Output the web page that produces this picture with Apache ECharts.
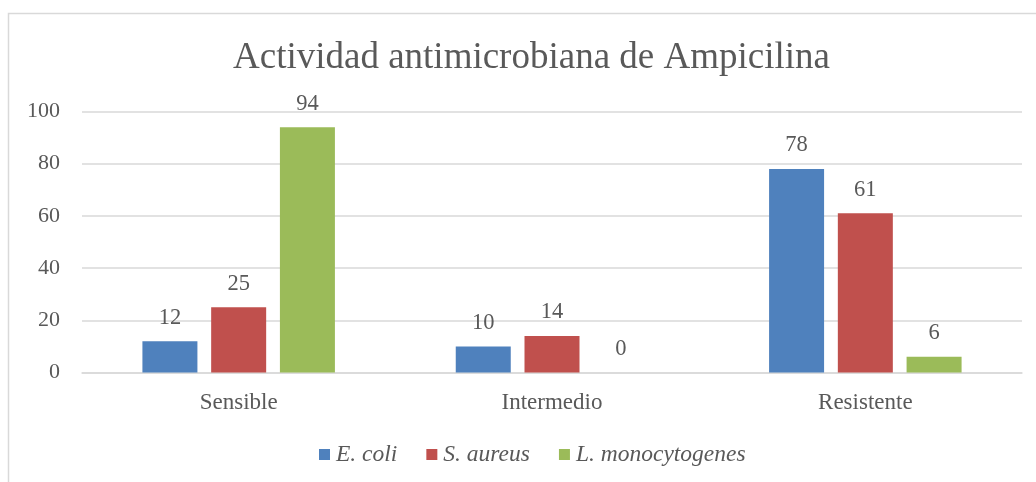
<!DOCTYPE html>
<html>
<head>
<meta charset="utf-8">
<script src="https://cdn.jsdelivr.net/npm/echarts@6/dist/echarts.min.js"></script>
<style>
html,body{margin:0;padding:0;background:#fff;}
#chart{width:1036px;height:482px;}
</style>
</head>
<body>
<div id="chart"></div>
<script>
const titleText = 'Actividad antimicrobiana de Ampicilina';
const categories = ['Sensible', 'Intermedio', 'Resistente'];
const seriesNames = ['E. coli', 'S. aureus', 'L. monocytogenes'];
const ecoli = [12, 10, 78];
const saureus = [25, 14, 61];
const lmono = [94, 0, 6];
const yTicks = { min: 0, max: 100, interval: 20 };

const colors = ['#4F81BD', '#C0504D', '#9BBB59'];
const font = 'Liberation Serif';
const textColor = '#595959';

const chart = echarts.init(document.getElementById('chart'), null, { renderer: 'canvas' });

function mkSeries(name, data, color) {
  return {
    name: name,
    type: 'bar',
    data: data,
    barWidth: 55,
    barGap: '25%',
    itemStyle: { color: color },
    label: {
      show: true,
      position: 'top',
      distance: 12,
      color: textColor,
      fontFamily: font,
      fontSize: 22.5
    }
  };
}

chart.setOption({
  animation: false,
  backgroundColor: '#fff',
  color: colors,
  graphic: [{
    type: 'rect',
    shape: { x: 8.5, y: 13.5, width: 1100, height: 600 },
    style: { fill: 'none', stroke: '#D9D9D9', lineWidth: 1.5 },
    silent: true
  }],
  title: {
    text: titleText,
    left: 228,
    top: 35,
    textStyle: { fontFamily: font, fontSize: 37, fontWeight: 'normal', color: textColor }
  },
  legend: {
    data: seriesNames,
    left: 314,
    top: 438,
    icon: 'rect',
    itemWidth: 11,
    itemHeight: 11,
    itemGap: 29,
    textStyle: { fontFamily: font, fontSize: 23.5, fontStyle: 'italic', color: textColor, padding: [0, 0, 0, 1] }
  },
  grid: { left: 82, right: 14, top: 111.5, bottom: 109.5, containLabel: false },
  xAxis: {
    type: 'category',
    data: categories,
    axisLine: { show: true, lineStyle: { color: '#D9D9D9', width: 1.5 } },
    axisTick: { show: false },
    axisLabel: { color: textColor, fontFamily: font, fontSize: 23, margin: 19 }
  },
  yAxis: {
    type: 'value',
    min: yTicks.min,
    max: yTicks.max,
    interval: yTicks.interval,
    axisLine: { show: false },
    axisTick: { show: false },
    splitLine: { lineStyle: { color: '#D9D9D9', width: 1.5 } },
    axisLabel: { color: textColor, fontFamily: font, fontSize: 22, margin: 22 }
  },
  series: [
    mkSeries(seriesNames[0], ecoli, colors[0]),
    mkSeries(seriesNames[1], saureus, colors[1]),
    mkSeries(seriesNames[2], lmono, colors[2])
  ]
});
</script>
</body>
</html>
